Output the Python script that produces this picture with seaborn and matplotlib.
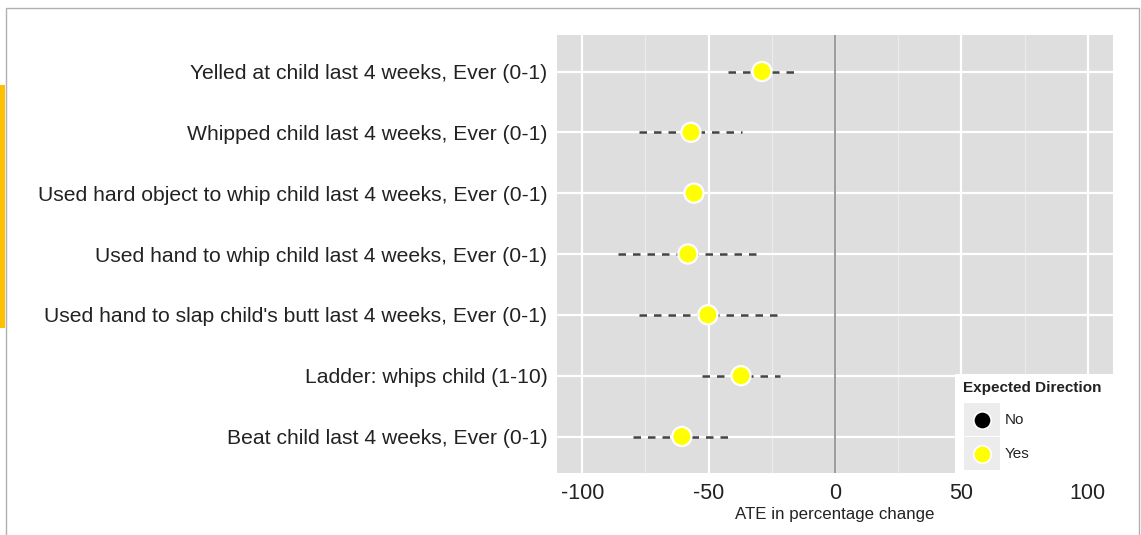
import numpy as np
import pandas as pd
import matplotlib
matplotlib.use("Agg")
import matplotlib.pyplot as plt
import seaborn as sns
from matplotlib.lines import Line2D
from matplotlib.patches import Rectangle

# data
outcomes = [
    "Yelled at child last 4 weeks, Ever (0-1)",
    "Whipped child last 4 weeks, Ever (0-1)",
    "Used hard object to whip child last 4 weeks, Ever (0-1)",
    "Used hand to whip child last 4 weeks, Ever (0-1)",
    "Used hand to slap child's butt last 4 weeks, Ever (0-1)",
    "Ladder: whips child (1-10)",
    "Beat child last 4 weeks, Ever (0-1)",
]
ate = [-28.9, -57.0, -55.8, -58.2, -50.3, -37.2, -60.6]
ci_low = [-42.4, -77.6, np.nan, -86.0, -77.6, -52.7, -80.0]
ci_high = [-15.8, -36.8, np.nan, -31.0, -22.6, -21.8, -40.8]
expected = ["Yes", "Yes", "Yes", "Yes", "Yes", "Yes", "Yes"]
x_ticks = [-100, -50, 0, 50, 100]
legend_levels = ["No", "Yes"]
legend_colors = {"No": "black", "Yes": "#ffff00"}

W, H = 1141, 535


def px(x, y):
    # pixel position (from top left) -> figure fraction
    return x / W, 1 - y / H


df = pd.DataFrame({"outcome": outcomes, "ate": ate, "lo": ci_low,
                   "hi": ci_high, "Expected Direction": expected})
df["pos"] = np.arange(len(df))

sns.set_style("white")
plt.rcParams["font.family"] = ["Liberation Sans", "DejaVu Sans"]

fig = plt.figure(figsize=(W / 100, H / 100), dpi=100)
ax = fig.add_axes([557 / W, 1 - 473 / H, 556 / W, 438 / H])
ax.set_facecolor("#dedede")

# grid, ggplot style
for v in [-75, -25, 25, 75]:
    ax.axvline(v, color="#ebebeb", lw=0.9, zorder=0)
for v in x_ticks:
    ax.axvline(v, color="white", lw=1.6, zorder=0)
for p in df["pos"]:
    ax.axhline(p, color="white", lw=1.6, zorder=0)
ax.axvline(0, color="#8a8a8a", lw=1.2, zorder=1)

# confidence intervals
ci = df.dropna(subset=["lo", "hi"])
ax.hlines(ci["pos"], ci["lo"], ci["hi"], colors="#444444", lw=1.8,
          linestyles=(0, (3.0, 2.8)), zorder=2)

sns.scatterplot(data=df, x="ate", y="pos", hue="Expected Direction",
                palette=legend_colors, s=190,
                edgecolor="white", linewidth=1.6, legend=False, zorder=3, ax=ax)

ax.set_xlim(-110, 110)
ax.set_ylim(len(df) - 0.4, -0.6)
ax.set_xticks(x_ticks)
ax.set_xticklabels([str(t) for t in x_ticks], fontsize=15.5, color="#222222")
ax.set_yticks(df["pos"])
ax.set_yticklabels(df["outcome"], fontsize=15.2, color="#222222")
ax.tick_params(axis="both", length=4, width=1, color="#888888", pad=3)
ax.set_xlabel("ATE in percentage change", fontsize=12.2, color="#222222", labelpad=2)
ax.set_ylabel("")
for s in ax.spines.values():
    s.set_visible(False)

# legend drawn by hand, ggplot style (grey key boxes)
x0, y0 = px(955, 475)
fig.add_artist(Rectangle((x0, y0), 158 / W, 101 / H, transform=fig.transFigure,
                         facecolor="white", edgecolor="none", zorder=5))
tx, ty = px(963, 388)
fig.text(tx, ty, "Expected Direction", fontsize=11, fontweight="bold",
         color="#222222", va="center", ha="left", zorder=6)
for i, lvl in enumerate(legend_levels):
    top = 403 + i * 34
    bx, by = px(964, top + 33)
    fig.add_artist(Rectangle((bx, by), 36 / W, 33 / H, transform=fig.transFigure,
                             facecolor="#ececec", edgecolor="none", zorder=6))
    cx, cy = px(982, top + 17)
    fig.add_artist(Line2D([cx], [cy], marker="o", ls="none", markersize=12.5,
                          markerfacecolor=legend_colors[lvl], markeredgecolor="white",
                          markeredgewidth=1.2, transform=fig.transFigure, zorder=7))
    lx, ly = px(1005, top + 17)
    fig.text(lx, ly, lvl, fontsize=11, color="#222222", va="center", ha="left",
             zorder=7)

# slide frame and accent bar
fig.add_artist(Rectangle((6 / W, -0.01), 1133 / W, 1 - 8 / H + 0.01,
                         transform=fig.transFigure, fill=False,
                         edgecolor="#b0b0b0", lw=1.0))
fig.add_artist(Rectangle(px(0, 328), 5 / W, 243 / H,
                         transform=fig.transFigure, facecolor="#ffc000",
                         edgecolor="none"))

fig.savefig("out.png", dpi=100)
